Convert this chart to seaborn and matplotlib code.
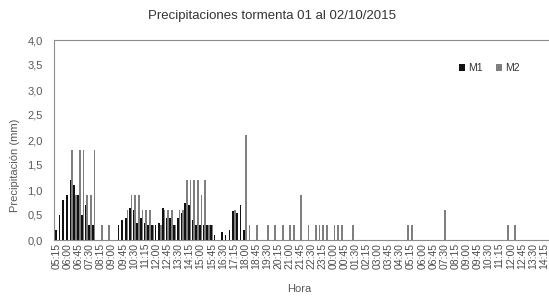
import matplotlib
matplotlib.use("Agg")
import matplotlib.pyplot as plt
import matplotlib.ticker as mticker
import pandas as pd
import seaborn as sns

sns.set_theme(style="white")
plt.rcParams["font.family"] = ["Liberation Sans", "DejaVu Sans"]

GRIS = "#595959"

# horas cada 15 min, 01/10 05:15 -> 02/10 14:30
HORAS = pd.date_range("2015-10-01 05:15", "2015-10-02 14:30",
                      freq="15min").strftime("%H:%M").tolist()

M1 = [0.2, 0.5, 0.8, 0.9, 1.2, 1.1, 0.9, 0.5, 0.7, 0.3,
      0.3, 0, 0, 0, 0, 0, 0, 0.3, 0.4, 0.45,
      0.65, 0.6, 0.35, 0.45, 0.35, 0.3, 0.3, 0.3, 0.35, 0.65,
      0.45, 0.45, 0.3, 0.45, 0.55, 0.75, 0.7, 0.4, 0.3, 0.3,
      0.3, 0.3, 0.3, 0.1, 0, 0.17, 0.1, 0.2, 0.58, 0.55,
      0.7, 0.2, 0, 0, 0, 0, 0, 0, 0, 0] + [0] * 74

M2 = [0, 0, 0, 0, 1.8, 0.9, 1.8, 1.8, 0.9, 0.9,
      1.8, 0, 0.3, 0, 0.3, 0, 0, 0, 0, 0.6,
      0.9, 0.9, 0.9, 0.6, 0.6, 0.6, 0.3, 0, 0.3, 0.6,
      0.6, 0.6, 0.3, 0.6, 0.6, 1.2, 1.2, 1.2, 1.2, 0.9,
      1.2, 0.3, 0.3, 0, 0, 0, 0, 0, 0.6, 0,
      0, 2.1, 0.3, 0, 0.3, 0, 0, 0.3, 0, 0.3,
      0, 0.3, 0, 0.3, 0.3, 0, 0.9, 0, 0.3, 0,
      0.3, 0.3, 0.3, 0.3, 0, 0.3, 0.3, 0.3, 0, 0,
      0.3, 0, 0, 0, 0, 0, 0, 0, 0, 0,
      0, 0, 0, 0, 0, 0.3, 0.3, 0, 0, 0,
      0, 0, 0, 0, 0, 0.6, 0, 0, 0, 0,
      0, 0, 0, 0, 0, 0, 0, 0, 0, 0,
      0, 0, 0.3, 0, 0.3, 0, 0, 0, 0, 0,
      0, 0, 0, 0]

n = len(HORAS)
df = pd.DataFrame({"pos": list(range(n)) * 2,
                   "Serie": ["M1"] * n + ["M2"] * n,
                   "Precip": M1 + M2})

fig = plt.figure(figsize=(5.49, 2.96), dpi=100)
ax = fig.add_axes([54 / 549, 1 - 240 / 296, 494 / 549, 200 / 296])

sns.barplot(data=df, x="pos", y="Precip", hue="Serie",
            palette={"M1": "#111111", "M2": "#7f7f7f"},
            width=0.9, saturation=1, errorbar=None, linewidth=0, ax=ax)

ax.set_xlim(-0.73, 133.1)
ax.set_ylim(0, 4)
ax.yaxis.set_major_locator(mticker.MultipleLocator(0.5))
ax.yaxis.set_major_formatter(
    mticker.FuncFormatter(lambda v, p: f"{v:.1f}".replace(".", ",")))
ax.set_xticks(range(0, n, 3))
ax.set_xticklabels(HORAS[::3], rotation=90)
ax.tick_params(axis="x", labelsize=7.5, colors="#4d4d4d", length=0, pad=2)
ax.tick_params(axis="y", labelsize=8, colors=GRIS, length=0, pad=8)
ax.set_xlabel("")
ax.set_ylabel("")

for s in ["left", "bottom", "top"]:
    ax.spines[s].set_color("#8c8c8c")
    ax.spines[s].set_linewidth(0.8)
ax.spines["right"].set_visible(False)

ax.legend(loc="upper left", bbox_to_anchor=(0.80, 0.93), ncol=2,
          frameon=False, fontsize=7.5, handlelength=0.6, handleheight=0.6,
          handletextpad=0.3, columnspacing=1.3, labelcolor="#333333")

fig.text(0.495, 0.945, "Precipitaciones tormenta 01 al 02/10/2015",
         ha="center", va="center", fontsize=9.5, color="#333333")
fig.text(0.027, 0.44, "Precipitación (mm)", rotation=90,
         ha="center", va="center", fontsize=8, color=GRIS)
fig.text(0.545, 0.025, "Hora", ha="center", va="center",
         fontsize=8, color=GRIS)

fig.savefig("out.png", dpi=100)
